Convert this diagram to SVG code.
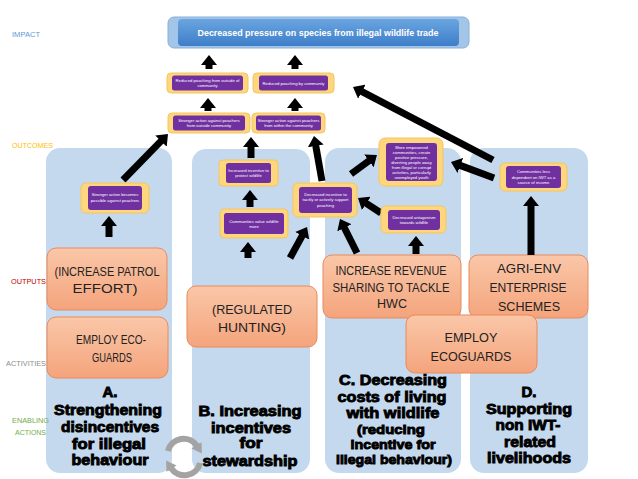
<svg xmlns="http://www.w3.org/2000/svg" width="638" height="479" viewBox="0 0 638 479">
<defs>
<marker id="ah" markerUnits="userSpaceOnUse" viewBox="0 0 10 16" markerWidth="10" markerHeight="16" refX="1" refY="8" orient="auto"><path d="M0,0 L10,8 L0,16 z" fill="#000"/></marker>
<marker id="gh" markerUnits="userSpaceOnUse" viewBox="0 0 10 12" markerWidth="10" markerHeight="12" refX="1" refY="6" orient="auto"><path d="M0,0 L10,6 L0,12 z" fill="#a3a3a3"/></marker>
<linearGradient id="og" x1="0" y1="0" x2="0" y2="1"><stop offset="0" stop-color="#fac7a8"/><stop offset="1" stop-color="#f4a47c"/></linearGradient>
<linearGradient id="tg" x1="0" y1="0" x2="0" y2="1"><stop offset="0" stop-color="#6aa5e0"/><stop offset="1" stop-color="#3e7ec9"/></linearGradient>
<style>
.lab{font-family:"Liberation Sans",Arial,sans-serif;font-size:7.5px}
.panel{fill:#c5d9ee}
.ob{fill:url(#og);stroke:#e98a5a;stroke-width:1}
.ot{font-family:"Liberation Sans",Arial,sans-serif;font-size:13.5px;fill:#222;text-anchor:middle}
.yb{fill:#fdd67e;stroke:#f5c55e;stroke-width:1}
.pb{fill:#7030a0}
.pt{font-family:"Liberation Sans",Arial,sans-serif;font-size:4.2px;fill:#fff;text-anchor:middle}
.tt{font-family:"Liberation Sans",Arial,sans-serif;font-size:14.5px;font-weight:bold;fill:#000;stroke:#000;stroke-width:0.9;text-anchor:middle}
.ar{stroke:#000;stroke-width:7;fill:none;marker-end:url(#ah)}
</style>
</defs>

<g id="panels">
<rect class="panel" x="46" y="148" width="126" height="325" rx="14"/>
<rect class="panel" x="192" y="149" width="118" height="324" rx="14"/>
<rect class="panel" x="325" y="148" width="136" height="325" rx="14"/>
<rect class="panel" x="470" y="148" width="118" height="325" rx="14"/>
</g>

<g id="labels">
<text class="lab" x="12" y="37" fill="#5b9bd5" textLength="28" lengthAdjust="spacingAndGlyphs">IMPACT</text>
<text class="lab" x="12" y="148" fill="#ffc000" textLength="41" lengthAdjust="spacingAndGlyphs">OUTCOMES</text>
<text class="lab" x="11" y="284" fill="#c00000" textLength="35" lengthAdjust="spacingAndGlyphs">OUTPUTS</text>
<text class="lab" x="6" y="366" fill="#8c8c8c" textLength="40" lengthAdjust="spacingAndGlyphs">ACTIVITIES</text>
<text class="lab" x="12" y="423" fill="#70ad47" textLength="37" lengthAdjust="spacingAndGlyphs">ENABLING</text>
<text class="lab" x="15" y="435" fill="#70ad47" textLength="31" lengthAdjust="spacingAndGlyphs">ACTIONS</text>
</g>

<g id="titles">
<text class="tt" x="110" y="397" textLength="15" lengthAdjust="spacingAndGlyphs">A.</text>
<text class="tt" x="108" y="415" textLength="108" lengthAdjust="spacingAndGlyphs">Strengthening</text>
<text class="tt" x="110" y="432" textLength="98" lengthAdjust="spacingAndGlyphs">disincentives</text>
<text class="tt" x="109" y="449" textLength="74" lengthAdjust="spacingAndGlyphs">for illegal</text>
<text class="tt" x="110" y="465" textLength="77" lengthAdjust="spacingAndGlyphs">behaviour</text>

<text class="tt" x="250" y="416" textLength="103" lengthAdjust="spacingAndGlyphs">B. Increasing</text>
<text class="tt" x="251" y="433" textLength="80" lengthAdjust="spacingAndGlyphs">incentives</text>
<text class="tt" x="251" y="448" textLength="23" lengthAdjust="spacingAndGlyphs">for</text>
<text class="tt" x="250" y="466" textLength="95" lengthAdjust="spacingAndGlyphs">stewardship</text>

<text class="tt" x="393" y="385" textLength="108" lengthAdjust="spacingAndGlyphs">C. Decreasing</text>
<text class="tt" x="392" y="402" textLength="109" lengthAdjust="spacingAndGlyphs">costs of living</text>
<text class="tt" x="393" y="418" textLength="93" lengthAdjust="spacingAndGlyphs">with wildlife</text>
<text class="tt" x="391" y="434" style="font-size:13px" textLength="68" lengthAdjust="spacingAndGlyphs">(reducing</text>
<text class="tt" x="393" y="449" style="font-size:13px" textLength="85" lengthAdjust="spacingAndGlyphs">incentive for</text>
<text class="tt" x="394" y="464" style="font-size:13px" textLength="116" lengthAdjust="spacingAndGlyphs">illegal behaviour)</text>

<text class="tt" x="529" y="397" textLength="15" lengthAdjust="spacingAndGlyphs">D.</text>
<text class="tt" x="529" y="414" textLength="86" lengthAdjust="spacingAndGlyphs">Supporting</text>
<text class="tt" x="528" y="430" textLength="65" lengthAdjust="spacingAndGlyphs">non IWT-</text>
<text class="tt" x="530" y="447" textLength="52" lengthAdjust="spacingAndGlyphs">related</text>
<text class="tt" x="529" y="463" textLength="84" lengthAdjust="spacingAndGlyphs">livelihoods</text>
</g>

<g id="cycle" fill="none" stroke="#a3a3a3" stroke-width="6">
<path d="M168,451 A16,16 0 0 1 197,446" marker-end="url(#gh)"/>
<path d="M200,463 A16,16 0 0 1 171,468" marker-end="url(#gh)"/>
</g>

<g id="out-a1"><rect class="ob" x="47" y="248" width="120" height="62" rx="9"/>
<text class="ot" x="107" y="276" textLength="105" lengthAdjust="spacingAndGlyphs">(INCREASE PATROL</text>
<text class="ot" x="105" y="293" textLength="65" lengthAdjust="spacingAndGlyphs">EFFORT)</text></g>
<g id="out-a2"><rect class="ob" x="47" y="317" width="121" height="61" rx="9"/>
<text class="ot" x="111" y="344" textLength="70" lengthAdjust="spacingAndGlyphs">EMPLOY ECO-</text>
<text class="ot" x="112" y="362" textLength="40" lengthAdjust="spacingAndGlyphs">GUARDS</text></g>
<g id="out-b"><rect class="ob" x="187" y="286" width="130" height="61" rx="9"/>
<text class="ot" x="252" y="314" textLength="80" lengthAdjust="spacingAndGlyphs">(REGULATED</text>
<text class="ot" x="252" y="332" textLength="68" lengthAdjust="spacingAndGlyphs">HUNTING)</text></g>
<g id="out-c"><rect class="ob" x="323" y="255" width="138" height="63" rx="9"/>
<text class="ot" x="391" y="275" style="font-size:12.5px" textLength="111" lengthAdjust="spacingAndGlyphs">INCREASE REVENUE</text>
<text class="ot" x="391" y="292" style="font-size:12.5px" textLength="117" lengthAdjust="spacingAndGlyphs">SHARING TO TACKLE</text>
<text class="ot" x="392" y="308" style="font-size:12.5px" textLength="30" lengthAdjust="spacingAndGlyphs">HWC</text></g>
<g id="out-d"><rect class="ob" x="469" y="255" width="119" height="63" rx="9"/>
<text class="ot" x="529" y="273" textLength="64" lengthAdjust="spacingAndGlyphs">AGRI-ENV</text>
<text class="ot" x="528" y="292" textLength="77" lengthAdjust="spacingAndGlyphs">ENTERPRISE</text>
<text class="ot" x="529" y="311" textLength="62" lengthAdjust="spacingAndGlyphs">SCHEMES</text></g>
<g id="out-e"><rect class="ob" x="406" y="315" width="131" height="58" rx="9"/>
<text class="ot" x="471" y="342" textLength="53" lengthAdjust="spacingAndGlyphs">EMPLOY</text>
<text class="ot" x="471" y="361" textLength="81" lengthAdjust="spacingAndGlyphs">ECOGUARDS</text></g>

<g id="connectors">
<line class="ar" x1="209" y1="69" x2="209" y2="64"/>
<line class="ar" x1="295" y1="69" x2="295" y2="64"/>
<line class="ar" x1="208" y1="111" x2="208" y2="107"/>
<line class="ar" x1="295" y1="111" x2="295" y2="107"/>
<line class="ar" x1="251" y1="158" x2="251" y2="146"/>
<line class="ar" x1="250" y1="207" x2="250" y2="199"/>
<line class="ar" x1="248" y1="258" x2="248" y2="251"/>
<line class="ar" x1="290" y1="258" x2="302.7" y2="234.9"/>
<line class="ar" x1="322" y1="181" x2="315.6" y2="144.9"/>
<line class="ar" x1="351" y1="174" x2="369.7" y2="160.3"/>
<line class="ar" x1="381" y1="213" x2="365.5" y2="202.9"/>
<line class="ar" x1="357" y1="253" x2="344" y2="227"/>
<line class="ar" x1="416" y1="254" x2="416" y2="245"/>
<line class="ar" x1="494" y1="178" x2="459.4" y2="165.1"/>
<line class="ar" x1="493" y1="160" x2="361" y2="91.2"/>
<line class="ar" x1="531" y1="255" x2="531" y2="205"/>
<line class="ar" x1="123" y1="180" x2="161.7" y2="140.4"/>
<line class="ar" x1="109" y1="237" x2="109" y2="225"/>
</g>

<g id="impact">
<rect x="168" y="17" width="301" height="31" rx="6" fill="#a3c6e8" stroke="#86b0dc" stroke-width="1"/>
<rect x="178" y="19" width="281" height="27" rx="4" fill="url(#tg)"/>
<text x="318" y="36" font-family="'Liberation Sans',Arial,sans-serif" font-size="9.5" font-weight="bold" fill="#fff" text-anchor="middle" textLength="241" lengthAdjust="spacingAndGlyphs">Decreased pressure on species from illegal wildlife trade</text>
</g>

<g id="o1"><rect class="yb" x="167" y="73" width="81" height="20" rx="4"/><rect class="pb" x="172" y="75.5" width="71" height="15" rx="2.5"/>
<text class="pt" x="207.5" y="82">Reduced poaching from outside of</text><text class="pt" x="207.5" y="87">community</text></g>
<g id="o2"><rect class="yb" x="253" y="73" width="81" height="20" rx="4"/><rect class="pb" x="259" y="75.5" width="69" height="15" rx="2.5"/>
<text class="pt" x="293.5" y="84.5">Reduced poaching by community</text></g>
<g id="o3"><rect class="yb" x="168" y="113" width="82" height="20" rx="4"/><rect class="pb" x="173" y="115.5" width="72" height="15" rx="2.5"/>
<text class="pt" x="209" y="122">Stronger action against poachers</text><text class="pt" x="209" y="127">from outside community</text></g>
<g id="o4"><rect class="yb" x="252" y="113" width="73" height="20" rx="4"/><rect class="pb" x="256" y="115.5" width="65" height="15" rx="2.5"/>
<text class="pt" x="288.5" y="122">Stronger action against poachers</text><text class="pt" x="288.5" y="127">from within the community</text></g>
<g id="o5"><rect class="yb" x="219" y="160" width="59" height="26" rx="4"/><rect class="pb" x="226" y="163" width="45" height="20" rx="2.5"/>
<text class="pt" x="248.5" y="171.5">Increased incentive to</text><text class="pt" x="248.5" y="177">protect wildlife</text></g>
<g id="o6"><rect class="yb" x="220" y="209" width="68" height="29" rx="4"/><rect class="pb" x="224" y="213" width="60" height="21" rx="2.5"/>
<text class="pt" x="254" y="222.5">Communities value wildlife</text><text class="pt" x="254" y="228">more</text></g>
<g id="o7"><rect class="yb" x="293" y="183" width="64" height="34" rx="5"/><rect class="pb" x="299" y="187" width="53" height="26" rx="3"/>
<text class="pt" x="325.5" y="195.5">Decreased incentive to</text><text class="pt" x="325.5" y="201">tacitly or actively support</text><text class="pt" x="325.5" y="206.5">poaching</text></g>
<g id="o8"><rect class="yb" x="379" y="138" width="64" height="48" rx="6"/><rect class="pb" x="386" y="143" width="51" height="38" rx="3"/>
<text class="pt" x="411.5" y="148.5">More empowered</text><text class="pt" x="411.5" y="153.5">communities, create</text><text class="pt" x="411.5" y="158.5">positive pressure,</text><text class="pt" x="411.5" y="163.5">diverting people away</text><text class="pt" x="411.5" y="168.5">from illegal or corrupt</text><text class="pt" x="411.5" y="173.5">activities, particularly</text><text class="pt" x="411.5" y="178.5">unemployed youth</text></g>
<g id="o9"><rect class="yb" x="381" y="206" width="65" height="27" rx="5"/><rect class="pb" x="388" y="210" width="52" height="20" rx="3"/>
<text class="pt" x="414" y="218.5">Decreased antagonism</text><text class="pt" x="414" y="224">towards wildlife</text></g>
<g id="o10"><rect class="yb" x="500" y="163" width="67" height="28" rx="5"/><rect class="pb" x="506" y="166" width="55" height="22" rx="3"/>
<text class="pt" x="533.5" y="173">Communities less</text><text class="pt" x="533.5" y="178.5">dependent on IWT as a</text><text class="pt" x="533.5" y="184">source of income</text></g>
<g id="o11"><rect class="yb" x="81" y="183" width="68" height="30" rx="5"/><rect class="pb" x="88" y="186" width="54" height="24" rx="3"/>
<text class="pt" x="115" y="196">Stronger action becomes</text><text class="pt" x="115" y="202">possible against poachers</text></g>
</svg>
